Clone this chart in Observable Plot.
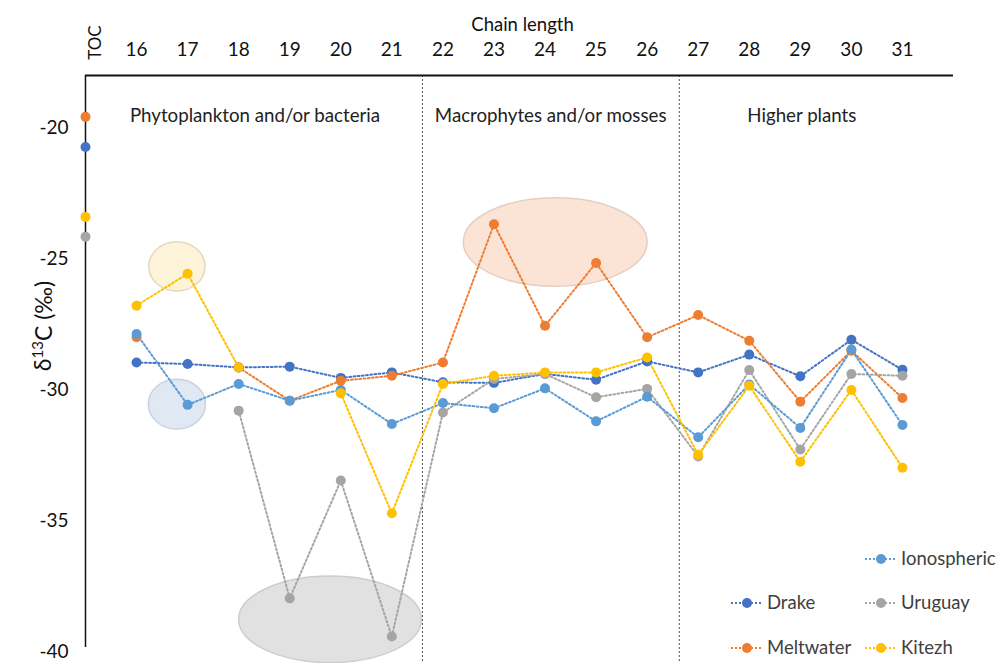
<!DOCTYPE html>
<html>
<head>
<meta charset="utf-8">
<script src="https://cdn.jsdelivr.net/npm/d3@7"></script>
<script src="https://cdn.jsdelivr.net/npm/@observablehq/plot@0.6"></script>
<style>
  body { margin: 0; background: #fff; }
  svg { display: block; }
</style>
</head>
<body>
<div id="chart"></div>
<script>
// ---- data ----
const chainLengths = [16, 17, 18, 19, 20, 21, 22, 23, 24, 25, 26, 27, 28, 29, 30, 31];
const tocPosition = 15;
const seriesNames = ["Drake", "Meltwater", "Uruguay", "Ionospheric", "Kitezh"];
const tocValues = [-20.73, -19.58, -24.16, null, -23.40];
const drake       = [-28.96, -29.02, -29.15, -29.12, -29.55, -29.34, -29.72, -29.74, -29.40, -29.62, -28.92, -29.34, -28.66, -29.49, -28.09, -29.24];
const meltwater   = [-28.00, null,   -29.15, -30.42, -29.66, -29.47, -28.96, -23.68, -27.56, -25.16, -28.00, -27.15, -28.13, -30.46, -28.51, -30.32];
const uruguay     = [null,   null,   -30.80, -37.97, -33.47, -39.43, -30.87, -29.59, -29.40, -30.29, -29.97, -32.55, -29.25, -32.28, -29.40, -29.47];
const ionospheric = [-27.87, -30.58, -29.78, -30.42, -30.01, -31.31, -30.51, -30.71, -29.95, -31.21, -30.27, -31.82, -29.80, -31.46, -28.47, -31.35];
const kitezh      = [-26.79, -25.57, -29.15, null,   -30.14, -34.72, -29.78, -29.47, -29.34, -29.34, -28.77, -32.49, -29.85, -32.75, -30.01, -32.98];
const seriesValues = [drake, meltwater, uruguay, ionospheric, kitezh];

const regionLabels = ["Phytoplankton and/or bacteria", "Macrophytes and/or mosses", "Higher plants"];
const regionLabelX = [18.32, 24.11, 29.03];
const regionBreaks = [21.6, 26.63];

const yTicks = [-40, -35, -30, -25, -20];
const legendOrder = ["Ionospheric", "Drake", "Uruguay", "Meltwater", "Kitezh"];

// highlighted groups (data coordinates: centre and half-widths)
const highlightNames = ["Kitezh", "Ionospheric", "Uruguay", "Meltwater"];
const highlightCx = [16.8, 16.8, 19.8, 24.21];
const highlightCy = [-25.31, -30.57, -38.79, -24.38];
const highlightRx = [0.55, 0.56, 1.79, 1.80];
const highlightRy = [0.94, 0.95, 1.65, 1.69];

// ---- styles ----
const colors = {Drake: "#4472C4", Meltwater: "#ED7D31", Uruguay: "#A5A5A5", Ionospheric: "#5B9BD5", Kitezh: "#FFC000"};
const highlightFill = {Kitezh: "#fdf3d8", Ionospheric: "#dfe8f3", Uruguay: "#e1e1e1", Meltwater: "#fbe4d5"};
const highlightStroke = {Kitezh: "#e2d9c2", Ionospheric: "#c9d3de", Uruguay: "#cdcdcd", Meltwater: "#e4cfc2"};
const FONT = "Lato, 'Open Sans', sans-serif";

// ---- build tables ----
const rows = [];
seriesNames.forEach((s, i) => {
  seriesValues[i].forEach((v, j) => rows.push({series: s, x: chainLengths[j], v: v == null ? NaN : v}));
});
const tocRows = seriesNames.map((s, i) => ({series: s, x: tocPosition, v: tocValues[i]})).filter(d => d.v != null);
const highlights = highlightNames.map((s, i) => ({series: s, cx: highlightCx[i], cy: highlightCy[i], rx: highlightRx[i], ry: highlightRy[i]}));

const ellipseMark = (index, scales) => {
  const g = d3.create("svg:g");
  for (const h of highlights) {
    const cx = scales.x(h.cx), cy = scales.y(h.cy);
    g.append("ellipse")
      .attr("cx", cx).attr("cy", cy)
      .attr("rx", Math.abs(scales.x(h.cx + h.rx) - cx))
      .attr("ry", Math.abs(scales.y(h.cy - h.ry) - cy))
      .attr("fill", highlightFill[h.series])
      .attr("stroke", highlightStroke[h.series])
      .attr("stroke-width", 1.5);
  }
  return g.node();
};

const yLabelMark = () => {
  const t = d3.create("svg:text")
    .attr("transform", "translate(51,326) rotate(-90)")
    .attr("text-anchor", "middle")
    .attr("font-size", 23)
    .attr("fill", "#111")
    .attr("font-family", FONT);
  t.append("tspan").text("δ");
  t.append("tspan").attr("font-size", 15).attr("dy", "-0.55em").text("13");
  t.append("tspan").attr("dy", "0.38em").text("C (‰)");
  return t.node();
};

const legendMark = () => {
  const g = d3.create("svg:g").attr("font-family", FONT).attr("font-size", 18.5);
  const colX = [747, 881];
  const rowY = [559, 603, 648];
  const slots = [[1, 0], [0, 1], [1, 1], [0, 2], [1, 2]];
  legendOrder.forEach((name, i) => {
    const x = colX[slots[i][0]], y = rowY[slots[i][1]];
    g.append("line").attr("x1", x - 16).attr("x2", x + 16).attr("y1", y).attr("y2", y)
      .attr("stroke", colors[name]).attr("stroke-width", 2).attr("stroke-dasharray", "2,2");
    g.append("circle").attr("cx", x).attr("cy", y).attr("r", 5).attr("fill", colors[name]);
    g.append("text").attr("x", x + 20).attr("y", y).attr("dy", "0.35em")
      .attr("text-anchor", "start").attr("fill", "#404040").text(name);
  });
  return g.node();
};

const chart = Plot.plot({
  width: 999,
  height: 663,
  marginLeft: 85,
  marginRight: 46,
  marginTop: 75,
  marginBottom: 12,
  style: {fontFamily: FONT, fontSize: "18px", color: "#111", background: "#fff"},
  x: {domain: [15, 32]},
  y: {domain: [-40, -18]},
  color: {domain: seriesNames, range: seriesNames.map(s => colors[s])},
  marks: [
    ellipseMark,
    Plot.ruleX(regionBreaks, {y1: -18, y2: -41, stroke: "#555", strokeWidth: 1, strokeDasharray: "2,2", clip: false}),
    Plot.ruleX([tocPosition], {y1: -18, y2: -39.85, stroke: "#111", strokeWidth: 1.5}),
    Plot.ruleY([-18], {x1: tocPosition, x2: 32, stroke: "#111", strokeWidth: 2}),
    Plot.axisX({anchor: "top", ticks: chainLengths, tickSize: 0, tickPadding: 20, label: null, fontSize: 19}),
    Plot.axisY({ticks: yTicks, tickSize: 0, tickPadding: 17, label: null, fontSize: 19, tickFormat: d => String(d)}),
    Plot.text(["TOC"], {x: tocPosition, frameAnchor: "top", dy: -33, dx: 3, rotate: -90, fontSize: 17, fill: "#111"}),
    Plot.text(["Chain length"], {frameAnchor: "top", dy: -58, dx: 3, fontSize: 18.5, fill: "#111"}),
    Plot.text(regionLabels, {x: (d, i) => regionLabelX[i], frameAnchor: "top", dy: 33, fontSize: 18.7, fill: "#222"}),
    Plot.line(rows, {x: "x", y: "v", z: "series", stroke: "series", strokeWidth: 2, strokeDasharray: "1.8,2.4"}),
    Plot.dot(rows, {x: "x", y: "v", fill: "series", r: 5}),
    Plot.dot(tocRows, {x: "x", y: "v", fill: "series", r: 5}),
    yLabelMark,
    legendMark
  ]
});
document.getElementById("chart").appendChild(chart);
</script>
</body>
</html>
